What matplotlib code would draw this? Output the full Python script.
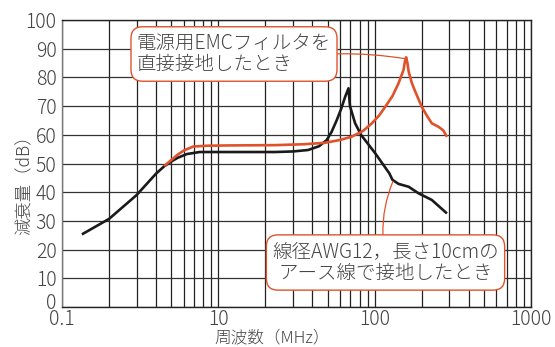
import numpy as np
import matplotlib
matplotlib.use('Agg')
import matplotlib.pyplot as plt
import matplotlib.transforms as mtransforms
from matplotlib.ticker import FixedLocator, NullFormatter

plt.rcParams['font.family'] = ['Noto Sans CJK JP', 'DejaVu Sans']
plt.rcParams['font.weight'] = 'light'

# attenuation vs frequency
freq_wire = [1.34, 2, 3, 4, 4.5, 5, 5.5, 6.3, 7.6, 12, 23, 30, 37.5, 44, 49.4, 53,
             57.3, 61, 64.8, 68, 69.5, 75, 82, 101, 124, 130, 142, 165, 191, 232, 290]
att_wire = [25.3, 30.7, 39, 46.5, 49, 50.7, 52, 53.3, 54, 54, 54, 54.2, 54.7, 56, 58.2, 61,
            65.2, 69, 73.3, 76.2, 70, 64, 59.9, 53.5, 46.6, 44.3, 42.9, 41.9, 39.6, 37.3, 32.6]

freq_direct = [4.5, 5, 5.5, 6, 6.9, 8.5, 12, 23, 35, 48, 60, 71, 84, 96, 107, 117, 130,
               142, 153, 156, 159, 162, 165, 173, 182, 200, 215, 232, 256, 275, 290]
att_direct = [49.1, 51.2, 53.1, 54.5, 55.9, 56.2, 56.3, 56.4, 56.7, 57.2, 58.2, 59.3, 61.3, 64,
              66.8, 69.8, 73.5, 77.9, 82.6, 85.5, 87, 85, 82, 78, 75, 69.8, 66.8, 64, 62.8,
              61.5, 59.3]

xtick_pos = [1, 10, 100, 1000]
xtick_labels = ['0.1', '10', '100', '1000']
ytick_pos = list(range(0, 101, 10))

orange = '#e0522a'
textc = '#444444'

fig = plt.figure(figsize=(5.55, 3.47), dpi=100)
ax = fig.add_axes([62/555, 1-307/347, (531-62)/555, (307-20)/347])

ax.set_xscale('log')
ax.set_xlim(1, 1000)
ax.set_ylim(0, 100)

# full log grid: every minor decade line plus every 10 dB
minor = [m*10**e for e in range(0, 3) for m in range(2, 10)]
for xv in minor + xtick_pos:
    ax.axvline(xv, color='#222222', lw=0.9, zorder=1)
for yv in ytick_pos:
    ax.axhline(yv, color='#333333', lw=0.9, zorder=1)

ax.plot(freq_wire, att_wire, color='#1a1a1a', lw=1.9, zorder=3, solid_capstyle='butt')
ax.plot(freq_direct, att_direct, color=orange, lw=1.9, zorder=4, solid_capstyle='butt')

ax.xaxis.set_major_locator(FixedLocator(xtick_pos))
ax.xaxis.set_minor_formatter(NullFormatter())
ax.set_xticks(xtick_pos)
ax.set_xticklabels(xtick_labels)
ax.set_yticks(ytick_pos)
ax.tick_params(which='both', length=0, labelsize=14, labelcolor=textc)
ax.tick_params(axis='x', pad=1.5)
ax.tick_params(axis='y', pad=4)
for s in ax.spines.values():
    s.set_color('#222222')
    s.set_linewidth(1.0)
ax.spines['left'].set_color('#777777')

# lift the "0" a little so it clears the "0.1" below it
lbl0 = ax.get_yticklabels()[0]
lbl0.set_transform(lbl0.get_transform() +
                   mtransforms.ScaledTranslation(0, 6/100, fig.dpi_scale_trans))

fig.text(272/555, 1-338/347, '周波数（MHz）', ha='center', va='center',
         fontsize=12, color=textc)
fig.text(25/555, 1-181/347, '減衰量（dB）', ha='center', va='center',
         fontsize=12.5, color=textc, rotation=90)

box = dict(boxstyle='round,pad=0.3,rounding_size=0.6', fc='white', ec=orange, lw=1.0)
ax.annotate('電源用EMCフィルタを\n直接接地したとき', xy=(157, 86.5),
            xytext=(234, 347-54), textcoords='figure pixels',
            ha='center', va='center', multialignment='left',
            fontsize=14, color=textc, linespacing=1.05, bbox=box, zorder=6,
            arrowprops=dict(arrowstyle='-', color=orange, lw=0.9, relpos=(1, 0.5),
                            shrinkA=0, shrinkB=0, connectionstyle='arc3,rad=-0.05'))
ax.annotate('線径AWG12，長さ10cmの\nアース線で接地したとき', xy=(131, 43.8),
            xytext=(385.5, 347-262.5), textcoords='figure pixels',
            ha='center', va='center', multialignment='center',
            fontsize=14, color=textc, linespacing=1.1, bbox=box, zorder=6,
            arrowprops=dict(arrowstyle='-', color=orange, lw=0.9, relpos=(0.49, 1),
                            shrinkA=0, shrinkB=0, connectionstyle='arc3,rad=-0.12'))

fig.savefig('out.png', dpi=100)
